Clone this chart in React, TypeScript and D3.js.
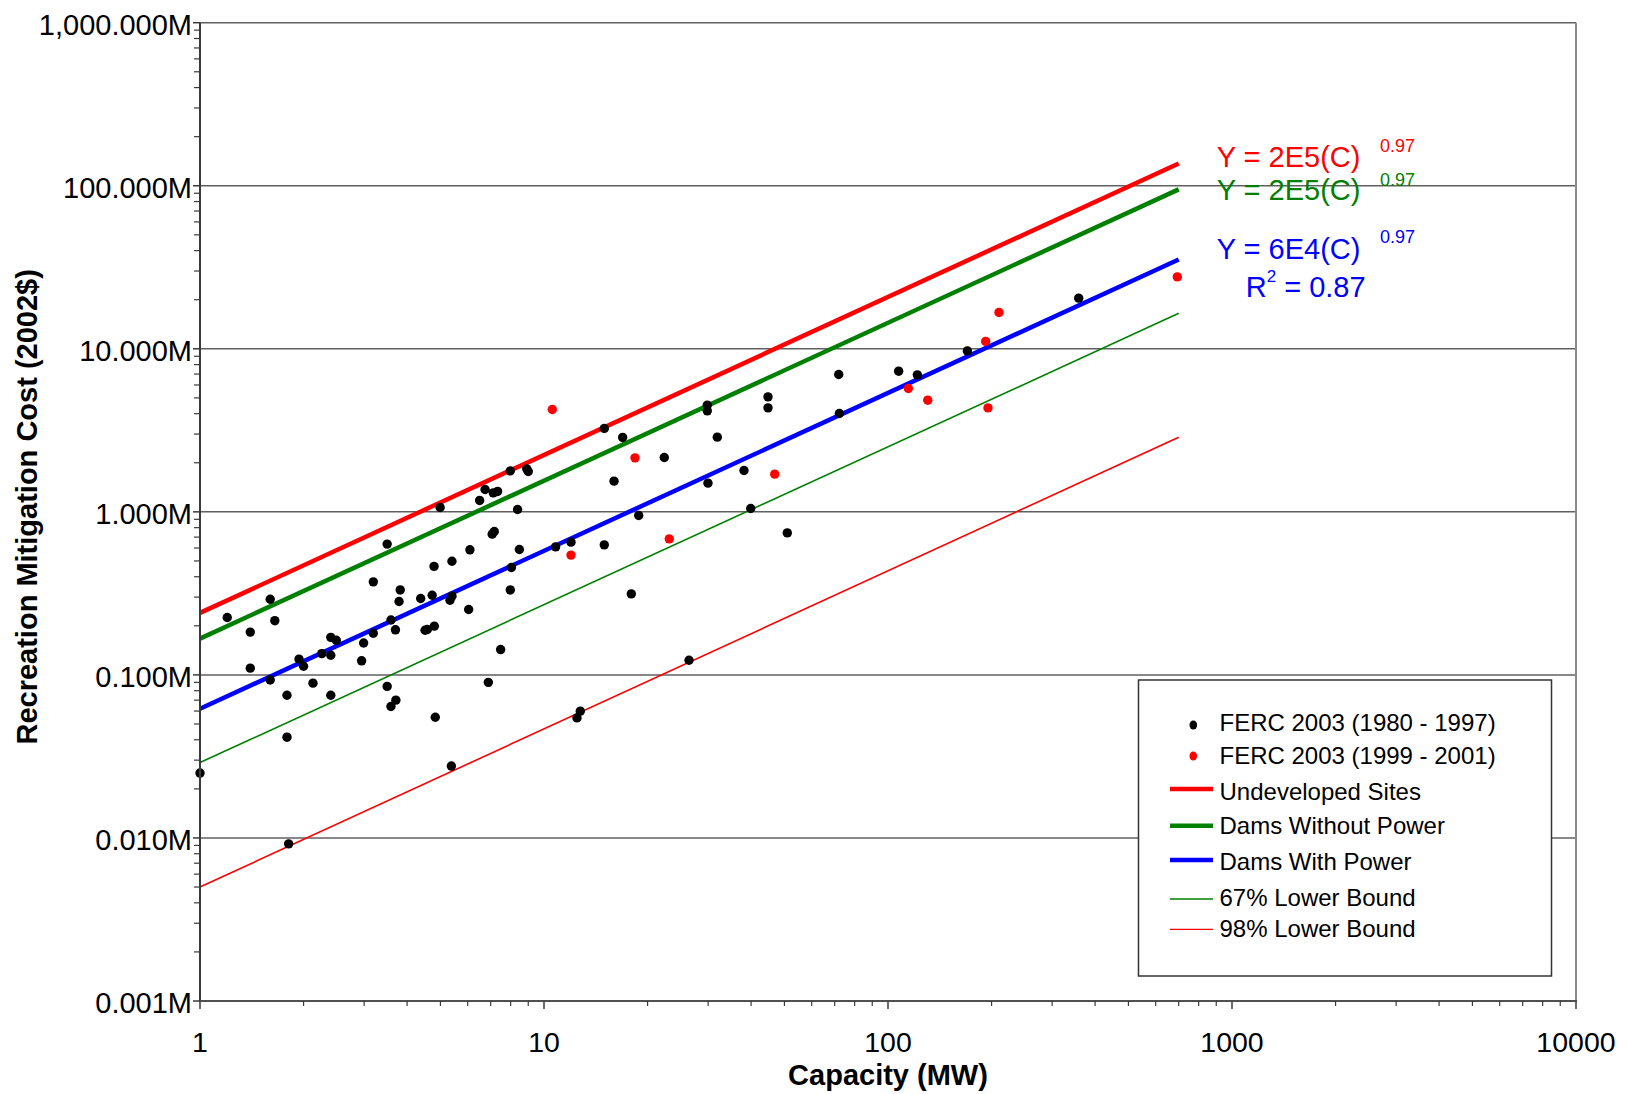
import React from "react";
import * as d3 from "d3";

// FERC 2003 (1980 - 1997): capacity (MW) and recreation mitigation cost (million 2002$)
const oldCapacity = [
  1.0, 1.81, 1.2, 1.4, 1.6, 1.65, 1.4, 1.6, 1.79, 1.79,
  1.94, 2.0, 2.13, 2.26, 2.4, 2.49, 2.4, 2.4, 2.95, 2.99,
  3.19, 3.19, 3.5, 3.5, 3.59, 3.71, 3.59, 3.7, 3.79, 3.82,
  4.38, 4.51, 4.58, 4.73, 4.79, 4.8, 4.83, 4.99, 5.33, 5.4,
  5.4, 6.04, 6.09, 6.5, 6.74, 6.89, 7.07, 7.17, 7.12, 7.33,
  7.48, 7.98, 7.98, 8.04, 8.38, 8.48, 8.91, 9.0, 10.81, 11.98,
  12.47, 12.75, 14.97, 16.93, 22.37, 15.98, 29.83, 29.83, 31.9, 44.79,
  44.79, 72.2, 29.97, 38.14, 39.9, 18.85, 14.97, 50.96, 17.94, 26.4,
  71.9, 107.4, 121.7, 170.1, 358.4, 5.38,
];
const oldCost = [
  0.025, 0.0092, 0.225, 0.183, 0.291, 0.215, 0.11, 0.093, 0.075, 0.0415,
  0.125, 0.113, 0.089, 0.135, 0.17, 0.163, 0.132, 0.075, 0.122, 0.157,
  0.372, 0.18, 0.634, 0.085, 0.064, 0.07, 0.217, 0.189, 0.282, 0.332,
  0.294, 0.188, 0.19, 0.308, 0.463, 0.199, 0.055, 1.064, 0.287, 0.304,
  0.498, 0.252, 0.585, 1.175, 1.372, 0.09, 0.73, 0.758, 1.308, 1.334,
  0.143, 1.784, 0.332, 0.456, 1.034, 0.588, 1.835, 1.769, 0.61, 0.652,
  0.0545, 0.0599, 3.247, 2.86, 2.156, 1.543, 4.51, 4.164, 2.872, 5.075,
  4.344, 4.013, 1.5, 1.794, 1.049, 0.95, 0.6275, 0.743, 0.314, 0.123,
  6.96, 7.29, 6.92, 9.71, 20.45, 0.0276,
];

// FERC 2003 (1999 - 2001)
const newCapacity = [10.57, 11.98, 18.39, 23.13, 46.85, 114.6, 130.5, 192.3, 210.2, 195.3, 693.4];
const newCost = [4.246, 0.543, 2.144, 0.683, 1.703, 5.71, 4.84, 11.1, 16.71, 4.34, 27.6];

// Fitted curves (endpoints)
const curveNames = ["Undeveloped Sites", "Dams Without Power", "Dams With Power", "67% Lower Bound", "98% Lower Bound"];
const curveStartCapacity = [1, 1, 1, 1, 1];
const curveEndCapacity = [700, 700, 700, 700, 700];
const curveStartCost = [0.24, 0.167, 0.062, 0.029, 0.005];
const curveEndCost = [137, 95, 35.3, 16.5, 2.87];

const curveColors = ["#ff0000", "#008000", "#0000ff", "#008000", "#ff0000"];
const curveWidths = [4.5, 4.5, 4.5, 1.6, 1.6];

const yTickValues = [0.001, 0.01, 0.1, 1, 10, 100, 1000];
const yTickLabels = ["0.001M", "0.010M", "0.100M", "1.000M", "10.000M", "100.000M", "1,000.000M"];
const xTickValues = [1, 10, 100, 1000, 10000];
const xTickLabels = ["1", "10", "100", "1000", "10000"];

const W = 1627;
const H = 1094;
const FONT = "'Liberation Sans', Arial, Helvetica, sans-serif";

export default function App() {
  const x = d3.scaleLog().domain([1, 10000]).range([200, 1576]);
  const y = d3.scaleLog().domain([0.001, 1000]).range([1001, 22.7]);
  const [x0, x1] = x.range();
  const [y0, y1] = y.range();

  const minorY: number[] = [];
  for (let d = -3; d < 3; d++) for (let k = 2; k <= 9; k++) minorY.push(k * Math.pow(10, d));
  const minorX: number[] = [];
  for (let d = 0; d < 4; d++) for (let k = 2; k <= 9; k++) minorX.push(k * Math.pow(10, d));

  const line = d3
    .line<[number, number]>()
    .x((d) => x(d[0]))
    .y((d) => y(d[1]));

  const oldPts = oldCapacity.map((c, i) => [c, oldCost[i]] as [number, number]);
  const newPts = newCapacity.map((c, i) => [c, newCost[i]] as [number, number]);

  const legendRowsY = [731, 763.5, 799.5, 834, 869.5, 905.5, 937];
  const legendLabels = ["FERC 2003 (1980 - 1997)", "FERC 2003 (1999 - 2001)", ...curveNames];

  return (
    <svg
      width={W}
      height={H}
      style={{ position: "absolute", left: 0, top: 0, display: "block", background: "#fff" }}
      fontFamily={FONT}
    >
      <rect x={0} y={0} width={W} height={H} fill="#fff" />
      {/* gridlines */}
      {yTickValues.slice(1).map((v) => (
        <line key={"g" + v} x1={x0} x2={x1} y1={y(v)} y2={y(v)} stroke="#606060" strokeWidth={1.5} />
      ))}
      {/* right border */}
      <line x1={x1} x2={x1} y1={y1} y2={y0} stroke="#8a8a8a" strokeWidth={2} />

      {/* fitted curves */}
      {curveNames.map((n, i) => (
        <path
          key={n}
          d={line([
            [curveStartCapacity[i], curveStartCost[i]],
            [curveEndCapacity[i], curveEndCost[i]],
          ]) as string}
          stroke={curveColors[i]}
          strokeWidth={curveWidths[i]}
          fill="none"
        />
      ))}

      {/* points */}
      {oldPts.map((p, i) => (
        <circle key={"o" + i} cx={x(p[0])} cy={y(p[1])} r={4.7} fill="#000" />
      ))}
      {newPts.map((p, i) => (
        <circle key={"n" + i} cx={x(p[0])} cy={y(p[1])} r={4.7} fill="#ff0000" />
      ))}

      {/* axes */}
      <line x1={x0} x2={x0} y1={y1} y2={y0 + 1} stroke="#3a3a3a" strokeWidth={2} />
      <line x1={x0} x2={x1 + 1} y1={y0} y2={y0} stroke="#505050" strokeWidth={2.2} />
      {minorY.map((v) => (
        <line key={"my" + v} x1={x0 - 6} x2={x0} y1={y(v)} y2={y(v)} stroke="#3a3a3a" strokeWidth={1.2} />
      ))}
      {yTickValues.map((v, i) => (
        <g key={"yt" + v}>
          <line x1={x0 - 7} x2={x0} y1={y(v)} y2={y(v)} stroke="#3a3a3a" strokeWidth={1.5} />
          <text x={192} y={y(v) + 12} textAnchor="end" fontSize={29} fill="#000">
            {yTickLabels[i]}
          </text>
        </g>
      ))}
      {minorX.map((v) => (
        <line key={"mx" + v} x1={x(v)} x2={x(v)} y1={y0} y2={y0 + 5} stroke="#3a3a3a" strokeWidth={1.2} />
      ))}
      {xTickValues.map((v, i) => (
        <g key={"xt" + v}>
          <line x1={x(v)} x2={x(v)} y1={y0} y2={y0 + 8} stroke="#3a3a3a" strokeWidth={1.5} />
          <text x={x(v)} y={1052} textAnchor="middle" fontSize={28.5} fill="#000">
            {xTickLabels[i]}
          </text>
        </g>
      ))}

      {/* axis titles */}
      <text x={(x0 + x1) / 2} y={1085} textAnchor="middle" fontSize={29} fontWeight="bold" fill="#000">
        Capacity (MW)
      </text>
      <text
        transform={`translate(37, ${(y0 + y1) / 2 - 5}) rotate(-90)`}
        textAnchor="middle"
        fontSize={29}
        fontWeight="bold"
        fill="#000"
      >
        Recreation Mitigation Cost (2002$)
      </text>

      {/* equations */}
      <text x={1216.7} y={166.7} fontSize={29} fill="#ff0000">Y = 2E5(C)</text>
      <text x={1380} y={151.7} fontSize={18} fill="#ff0000">0.97</text>
      <text x={1216.7} y={200} fontSize={29} fill="#008000">Y = 2E5(C)</text>
      <text x={1380} y={185.7} fontSize={18} fill="#008000">0.97</text>
      <text x={1216.7} y={259.3} fontSize={29} fill="#0000ff">Y = 6E4(C)</text>
      <text x={1380} y={243.3} fontSize={18} fill="#0000ff">0.97</text>
      <text x={1245.7} y={296.7} fontSize={29} fill="#0000ff">
        R
        <tspan fontSize={17} dy={-15}>2</tspan>
        <tspan dy={15}>{" = 0.87"}</tspan>
      </text>

      {/* legend */}
      <rect x={1138.5} y={680} width={413} height={296} fill="#fff" stroke="#333" strokeWidth={1.5} />
      <ellipse cx={1193.3} cy={725} rx={3.8} ry={4.6} fill="#000" />
      <ellipse cx={1193.3} cy={756} rx={3.8} ry={4.6} fill="#ff0000" />
      {curveNames.map((n, i) => {
        const ly = [789, 825.7, 860, 899, 929.3][i];
        return (
          <line
            key={"lg" + n}
            x1={1170}
            x2={1213}
            y1={ly}
            y2={ly}
            stroke={curveColors[i]}
            strokeWidth={curveWidths[i] > 2 ? 4.5 : 1.3}
          />
        );
      })}
      {legendLabels.map((t, i) => (
        <text key={"lt" + i} x={1219.5} y={legendRowsY[i]} fontSize={24} fill="#000">
          {t}
        </text>
      ))}
    </svg>
  );
}
